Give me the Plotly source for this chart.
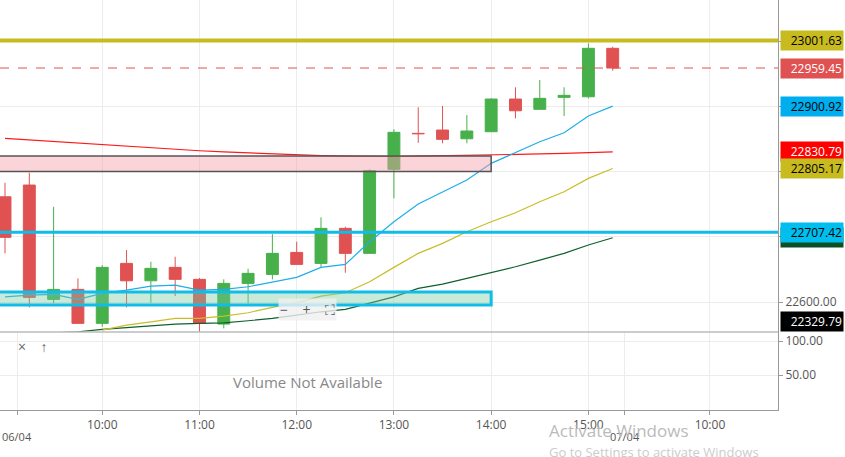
import plotly.graph_objects as go

# 15-minute candles, 06/04 (previous session's last bar first) and 07/04
times = ["05/04 15:15", "06/04 09:15", "09:30", "09:45", "10:00", "10:15", "10:30", "10:45",
         "11:00", "11:15", "11:30", "11:45", "12:00", "12:15", "12:30", "12:45",
         "13:00", "13:15", "13:30", "13:45", "14:00", "14:15", "14:30", "14:45",
         "15:00", "15:15"]
opens = [22761.7, 22779.7, 22604.1, 22619.5, 22567.3, 22659.4, 22632.7, 22653.3, 22634.9, 22566.2,
         22628.7, 22642.5, 22676.3, 22659.4, 22713.2, 22674.8, 22803.8, 22859.1, 22864.2, 22850.8,
         22861.6, 22911.8, 22896.0, 22914.4, 22915.3, 22989.7]
highs = [22783.2, 22798.6, 22746.4, 22636.4, 22656.8, 22679.9, 22661.9, 22669.6, 22637.0, 22634.9,
         22651.1, 22704.4, 22692.6, 22730.1, 22715.7, 22803.8, 22865.3, 22899.1, 22901.1, 22887.2,
         22912.9, 22929.8, 22941.0, 22929.8, 22997.4, 22992.1]
lows = [22674.8, 22591.9, 22598.0, 22567.3, 22562.1, 22591.9, 22598.9, 22609.2, 22554.4, 22559.6,
        22598.0, 22634.9, 22657.9, 22653.3, 22645.0, 22674.8, 22759.3, 22844.7, 22843.8, 22843.8,
        22861.6, 22882.2, 22896.0, 22885.7, 22912.9, 22955.3]
closes = [22699.4, 22607.2, 22619.5, 22567.3, 22653.3, 22632.7, 22651.8, 22634.9, 22567.3, 22628.7,
          22644.1, 22674.8, 22657.9, 22713.2, 22674.8, 22801.7, 22860.7, 22858.6, 22849.9, 22862.7,
          22911.8, 22893.8, 22912.9, 22917.5, 22989.7, 22959.45]

ema_fast = [22608.1, 22610.8, 22611.8, 22604.1, 22613.4, 22618.4, 22624.6, 22626.1, 22618.4, 22619.5,
            22623.5, 22631.2, 22637.9, 22653.3, 22657.9, 22692.6, 22723.3, 22750.5, 22769.4, 22787.4,
            22813.0, 22829.3, 22846.2, 22860.0, 22885.7, 22900.92]
ema_mid = [None, None, None, None, 22557.0, 22564.7, 22569.7, 22575.0, 22575.0, 22578.5,
           22583.6, 22591.9, 22598.9, 22609.2, 22614.3, 22631.2, 22653.3, 22674.8, 22690.2, 22708.0,
           22723.3, 22737.2, 22754.1, 22769.4, 22790.0, 22805.17]
ema_slow = [None, None, 22552.8, 22554.4, 22558.1, 22561.1, 22564.2, 22566.2, 22567.3, 22568.2,
            22571.3, 22575.0, 22580.0, 22585.1, 22588.7, 22598.9, 22608.1, 22621.0, 22627.6, 22636.4,
            22645.0, 22654.2, 22664.5, 22674.8, 22687.6, 22698.8]
ema_long = [22851.4, 22849.0, 22846.5, 22844.0, 22841.2, 22839.0, 22836.8, 22834.6, 22832.4, 22830.7,
            22829.0, 22827.4, 22825.8, 22824.8, 22824.0, 22823.5, 22823.6, 22824.0, 22824.5, 22825.2,
            22825.8, 22826.5, 22827.5, 22828.5, 22829.7, 22830.79]

resistance = 23001.63
last_price = 22959.45
support = 22707.42
zone_red = (22800.4, 22824.3)
zone_green = (22595.4, 22615.4)
zone_end = "14:00"

tick_labels = ["10:00", "11:00", "12:00", "13:00", "14:00", "15:00", "10:00"]
tick_index = [4, 8, 12, 16, 20, 24, 29]
day_labels = ["06/04", "07/04"]
day_index = [0.5, 25.5]

idx = list(range(len(times)))
zone_x = times.index(zone_end)
GREEN, RED = "#47b04b", "#e05252"

fig = go.Figure()
fig.add_trace(go.Candlestick(x=idx, open=opens, high=highs, low=lows, close=closes,
                             increasing=dict(line=dict(color=GREEN, width=1), fillcolor=GREEN),
                             decreasing=dict(line=dict(color=RED, width=1), fillcolor=RED),
                             whiskerwidth=0, xaxis="x", yaxis="y"))
for vals, col in [(ema_long, "#ff1a1a"), (ema_slow, "#10602c"), (ema_mid, "#c9bd2a"), (ema_fast, "#1eaee8")]:
    fig.add_trace(go.Scatter(x=idx, y=vals, mode="lines", line=dict(color=col, width=1.2),
                             xaxis="x", yaxis="y", hoverinfo="skip"))

# zones
fig.add_shape(type="rect", xref="x", yref="y", x0=-2, x1=zone_x, y0=zone_red[0], y1=zone_red[1],
              fillcolor="rgba(245,160,170,0.45)", line=dict(color="#555", width=1.5))
fig.add_shape(type="rect", xref="x", yref="y", x0=-2, x1=zone_x, y0=zone_green[0], y1=zone_green[1],
              fillcolor="rgba(120,200,160,0.4)", line=dict(color="#10bde8", width=3))
# levels
fig.add_hline(y=resistance, line=dict(color="#c8bb20", width=4), yref="y")
fig.add_hline(y=last_price, line=dict(color=RED, width=1, dash="dash"), yref="y")
fig.add_hline(y=support, line=dict(color="#10bde8", width=3), yref="y")

# price tags on the right axis
tags = [(resistance, "#c8bb20", "black"), (last_price, RED, "white"), (ema_fast[-1], "#00aeef", "black"),
        (ema_long[-1], "#ff0000", "white"), (ema_mid[-1], "#c8bb20", "black"),
        (ema_slow[-1], "#0b4f24", "white"), (support, "#00bfef", "black"), (22553.9, "black", "white")]
tag_text = ["23001.63", "22959.45", "22900.92", "22830.79", "22805.17", "22698.80", "22707.42", "22329.79"]
for (v, bg, fg), t in zip(tags, tag_text):
    fig.add_annotation(x=1.002, xref="paper", y=v, yref="y", text=t, showarrow=False, xanchor="left",
                       yanchor="bottom" if t == "22329.79" else "middle",
                       bgcolor=bg, font=dict(color=fg, size=12), borderpad=1, width=60, align="right")

for t, i in zip(day_labels, day_index):
    fig.add_annotation(x=i, xref="x2", y=-0.065, yref="paper", text=t, showarrow=False, yanchor="middle",
                       font=dict(size=11, color="#555"))
fig.add_annotation(x=0.395, xref="paper", y=0.04, yref="paper", text="Volume Not Available",
                   showarrow=False, font=dict(size=15, color="#888"))
fig.add_annotation(x=0.395, xref="paper", y=0.216, yref="paper", text="−    +    ⛶", showarrow=False,
                   bgcolor="rgba(240,240,240,0.8)", font=dict(size=14, color="#555"))
fig.add_annotation(x=0.02, xref="paper", y=0.126, yref="paper", text="×    ↑", showarrow=False,
                   font=dict(size=14, color="#666"))
fig.add_annotation(x=0.703, xref="paper", y=-0.084, yref="paper", text="Activate Windows", showarrow=False,
                   xanchor="left", font=dict(size=17, color="#bbb"))
fig.add_annotation(x=0.703, xref="paper", y=-0.13, yref="paper", text="Go to Settings to activate Windows",
                   showarrow=False, xanchor="left", font=dict(size=13, color="#ccc"))

xr = [-0.206, 31.8]
grid = "#ececec"
fig.update_layout(
    width=845, height=457, margin=dict(l=0, r=67, t=0, b=47, autoexpand=False),
    paper_bgcolor="white", plot_bgcolor="white", showlegend=False,
    font=dict(family="Open Sans", size=12, color="#555"),
    xaxis=dict(domain=[0, 1], range=xr, anchor="y", tickvals=tick_index, showticklabels=False,
               gridcolor=grid, rangeslider=dict(visible=False), zeroline=False, automargin=False),
    xaxis2=dict(domain=[0, 1], range=xr, anchor="y2", tickvals=tick_index + day_index,
                ticktext=tick_labels + ["", ""], gridcolor=grid, zeroline=False, ticks="outside",
                ticklen=4, tickcolor="#999", showline=True, linecolor="#999", automargin=False),
    yaxis=dict(domain=[0.19, 1], range=[22553.9, 23063.9], side="right", anchor="x",
               tickvals=[22600, 22700, 22800, 22900, 23000],
               ticktext=["22600.00", "", "", "", ""], gridcolor=grid, zeroline=False,
               showline=True, linecolor="#999", ticks="outside", ticklen=4, tickcolor="#999",
               automargin=False),
    yaxis2=dict(domain=[0, 0.19], range=[-1.5, 113.2], side="right", anchor="x2",
                tickvals=[50, 100], ticktext=["50.00", "100.00"], gridcolor=grid, zeroline=False,
                showline=True, linecolor="#999", ticks="outside", ticklen=4, tickcolor="#999",
                automargin=False),
)
fig.add_shape(type="line", xref="paper", yref="paper", x0=0, x1=1, y0=0.19, y1=0.19,
              line=dict(color="#bbb", width=1.5))
fig.write_html("out.html", config=dict(displayModeBar=False),
               post_script="document.body.style.margin='0';document.body.style.overflow='hidden';")
